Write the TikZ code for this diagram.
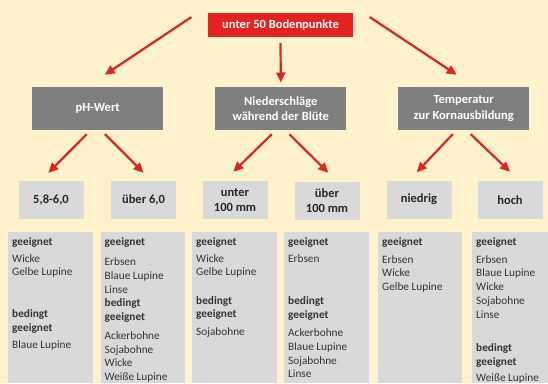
\documentclass[tikz,border=0pt]{standalone}
\usepackage{fontspec}
\setmainfont{Carlito}
\usepackage{xcolor}
\usepackage{tikz}
\usetikzlibrary{arrows.meta}

\definecolor{bgcream}{RGB}{255,242,204}
\definecolor{soilred}{RGB}{227,35,34}
\definecolor{darkbox}{RGB}{127,127,127}
\definecolor{lightbox}{RGB}{217,217,217}

\begin{document}
\begin{tikzpicture}[
  x=1pt,
  y=-1pt,
  root/.style={fill=soilred, text=white, font=\fontsize{12.5}{15}\selectfont\bfseries, minimum width=145pt, minimum height=24pt, inner sep=0pt},
  factor/.style={fill=darkbox, text=white, font=\fontsize{12.5}{15.3}\selectfont\bfseries, align=center, minimum width=131pt, minimum height=43pt, inner sep=0pt},
  rangebox/.style={fill=lightbox, text=black!85, font=\fontsize{12.5}{15}\selectfont\bfseries, align=center, minimum width=65pt, minimum height=38pt, inner sep=0pt},
  listbox/.style={fill=lightbox, anchor=north west, minimum width=85pt, minimum height=151pt, inner sep=0pt},
  croplist/.style={anchor=north west, align=left, inner sep=0pt, text=black!80, font=\fontsize{11.3}{13.8}\selectfont},
  arrow/.style={-{Triangle[length=10pt,width=9pt]}, line width=2.2pt, draw=soilred}
]
  \fill[bgcream] (0,0) rectangle (548,383);
  \useasboundingbox (0,0) rectangle (548,383);

  % top level
  \node[root] (soil) at (280.5,25) {unter 50 Bodenpunkte};

  \node[factor] (ph) at (97.7,108.5) {pH-Wert};
  \node[factor] (rain) at (280.8,108.5) {Niederschläge\\während der Blüte};
  \node[factor] (temp) at (463.7,108.5) {Temperatur\\zur Kornausbildung};
  \draw[arrow] ([xshift=-16.5pt,yshift=-4.3pt]soil.north west) -- ([xshift=7pt,yshift=12pt]ph.north);
  \draw[arrow] ([yshift=-6pt]soil.south) -- ([yshift=4.3pt]rain.north);
  \draw[arrow] ([xshift=16.5pt,yshift=-4.3pt]soil.north east) -- ([xshift=-7pt,yshift=12pt]temp.north);

  % ranges
  \node[rangebox] (phlow) at (51,200) {5,8-6,0};
  \node[rangebox] (phhigh) at (143.5,200) {über 6,0};
  \node[rangebox] (rainlow) at (235,200) {unter\\100 mm};
  \node[rangebox] (rainhigh) at (327,201) {über\\100 mm};
  \node[rangebox] (templow) at (419,199.5) {niedrig};
  \node[rangebox] (temphigh) at (510,200) {hoch};
  \draw[arrow] ([xshift=-11pt,yshift=-4pt]ph.south) -- ([xshift=-2.7pt,yshift=8pt]phlow.north);
  \draw[arrow] ([xshift=7.3pt,yshift=-4pt]ph.south) -- ([yshift=8pt]phhigh.north);
  \draw[arrow] ([xshift=-9pt,yshift=-4pt]rain.south) -- ([xshift=-1.7pt,yshift=9pt]rainlow.north);
  \draw[arrow] ([xshift=8.5pt,yshift=-4pt]rain.south) -- ([xshift=1.3pt,yshift=9pt]rainhigh.north);
  \draw[arrow] ([xshift=-11pt,yshift=-4pt]temp.south) -- ([xshift=-2.3pt,yshift=8pt]templow.north);
  \draw[arrow] ([xshift=7pt,yshift=-4pt]temp.south) -- ([yshift=9pt]temphigh.north);

  % crop lists
  \node[listbox] (list1) at (8,232) {};
  \node[listbox, minimum width=84pt] (list2) at (101,232) {};
  \node[listbox] (list3) at (192,232) {};
  \node[listbox] (list4) at (284,232) {};
  \node[listbox, minimum width=84pt] (list5) at (378,232) {};
  \node[listbox, minimum width=76pt] (list6) at (472,232) {};

  \node[croplist] (crops1) at (12,237.3) {\textbf{geeignet}\\[2.8pt]Wicke\\Gelbe Lupine\\[28.2pt]\textbf{bedingt}\\\textbf{geeignet}\\[2.8pt]Blaue Lupine};
  \node[croplist] (crops2) at (104.5,237.3) {\textbf{geeignet}\\[6.2pt]Erbsen\\Blaue Lupine\\Linse\\\textbf{bedingt}\\\textbf{geeignet}\\[4.8pt]Ackerbohne\\Sojabohne\\Wicke\\Weiße Lupine};
  \node[croplist] (crops3) at (196,237.3) {\textbf{geeignet}\\[2.8pt]Wicke\\Gelbe Lupine\\[14.5pt]\textbf{bedingt}\\\textbf{geeignet}\\[4.2pt]Sojabohne};
  \node[croplist] (crops4) at (288,237.3) {\textbf{geeignet}\\[2.8pt]Erbsen\\[28.9pt]\textbf{bedingt}\\\textbf{geeignet}\\[4.2pt]Ackerbohne\\Blaue Lupine\\Sojabohne\\Linse};
  \node[croplist] (crops5) at (382,237.3) {\textbf{geeignet}\\[3.8pt]Erbsen\\Wicke\\Gelbe Lupine};
  \node[croplist] (crops6) at (476,237.3) {\textbf{geeignet}\\[3.8pt]Erbsen\\Blaue Lupine\\Wicke\\Sojabohne\\Linse\\[19.5pt]\textbf{bedingt}\\\textbf{geeignet}\\[2pt]Weiße Lupine};
\end{tikzpicture}
\end{document}
